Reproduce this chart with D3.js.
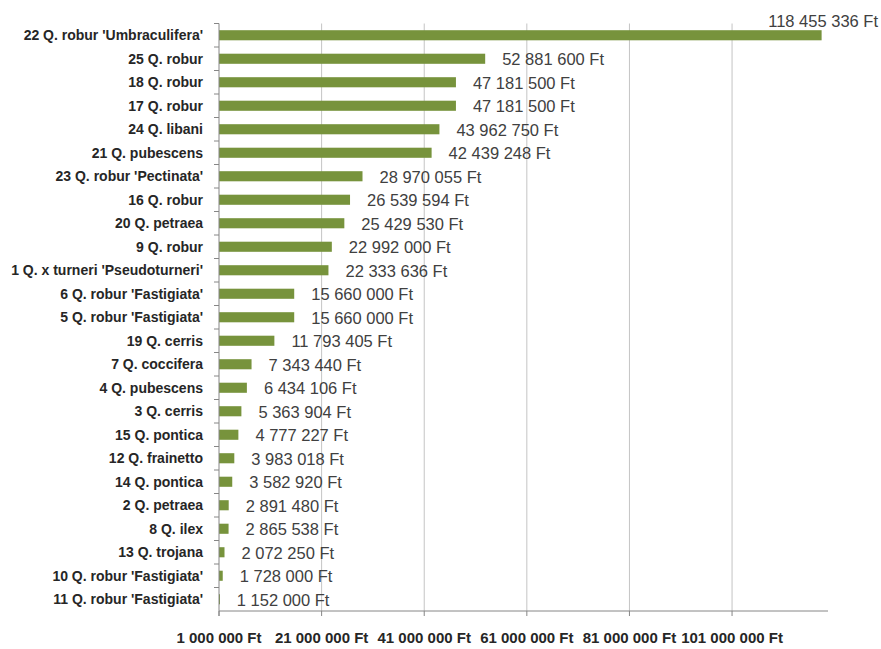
<!DOCTYPE html>
<meta charset="utf-8">
<style>
    body { margin: 0; background: #fff; }
    .cat text { font-family: "Liberation Sans Narrow", "Liberation Sans", Arial, sans-serif; font-weight: bold; font-size: 14px; fill: #262626; }
    .val { font-family: "Liberation Sans", Arial, sans-serif; font-size: 16.5px; fill: #404040; }
    .xlab { font-family: "Liberation Sans Narrow", "Liberation Sans", Arial, sans-serif; font-weight: bold; font-size: 15px; fill: #262626; }
</style>
<body>
<script src="https://cdn.jsdelivr.net/npm/d3@7"></script>
<script>
    // Trees, top to bottom, and their value in Ft
    var trees = ["22 Q. robur 'Umbraculifera'", "25 Q. robur", "18 Q. robur", "17 Q. robur",
        "24 Q. libani", "21 Q. pubescens", "23 Q. robur 'Pectinata'", "16 Q. robur",
        "20 Q. petraea", "9 Q. robur", "1 Q. x turneri 'Pseudoturneri'", "6 Q. robur 'Fastigiata'",
        "5 Q. robur 'Fastigiata'", "19 Q. cerris", "7 Q. coccifera ", "4 Q. pubescens",
        "3 Q. cerris", "15 Q. pontica", "12 Q. frainetto", "14 Q. pontica", "2 Q. petraea",
        "8 Q. ilex", "13 Q. trojana", "10 Q. robur 'Fastigiata'", "11 Q. robur 'Fastigiata'"];
    var values = [118455336, 52881600, 47181500, 47181500, 43962750, 42439248, 28970055, 26539594,
        25429530, 22992000, 22333636, 15660000, 15660000, 11793405, 7343440, 6434106,
        5363904, 4777227, 3983018, 3582920, 2891480, 2865538, 2072250, 1728000, 1152000];
    var xTicks = [1000000, 21000000, 41000000, 61000000, 81000000, 101000000];

    var W = 881, H = 649;
    // plot box (note: "top" is taken by window.top)
    var plotLeft = 219, plotRight = 828, plotTop = 23.5, plotBottom = 611;

    // number with space thousand separators, as in the source
    function ft(v) {
        return String(v).replace(/\B(?=(\d{3})+(?!\d))/g, " ") + " Ft";
    }

    var svg = d3.select("body").append("svg")
        .attr("width", W)
        .attr("height", H);

    var x = d3.scaleLinear()
        .domain([1000000, 119700000])
        .range([plotLeft, plotRight]);

    var y = d3.scaleBand()
        .domain(trees)
        .range([plotTop, plotBottom])
        .paddingInner(0.57)
        .paddingOuter(0.285);

    // vertical gridlines
    svg.append("g")
        .selectAll("line")
        .data(xTicks.slice(1))
        .enter().append("line")
        .attr("x1", function(d) { return x(d); })
        .attr("x2", function(d) { return x(d); })
        .attr("y1", plotTop)
        .attr("y2", plotBottom)
        .attr("stroke", "#c4c4c4")
        .attr("stroke-width", 1);

    // bars
    svg.append("g")
        .selectAll("rect")
        .data(values)
        .enter().append("rect")
        .attr("x", x(1000000))
        .attr("y", function(d, i) { return y(trees[i]); })
        .attr("width", function(d) { return Math.max(1, x(d) - x(1000000)); })
        .attr("height", y.bandwidth())
        .attr("fill", "#77933c");

    // left axis with ticks between categories
    var step = y.step();
    var yAxis = svg.append("g").attr("class", "cat");
    yAxis.append("line")
        .attr("x1", plotLeft).attr("x2", plotLeft)
        .attr("y1", plotTop).attr("y2", plotBottom + 5)
        .attr("stroke", "#868686");
    yAxis.selectAll("line.tk")
        .data(d3.range(trees.length))
        .enter().append("line")
        .attr("class", "tk")
        .attr("x1", plotLeft - 5).attr("x2", plotLeft)
        .attr("y1", function(i) { return plotTop + i * step; })
        .attr("y2", function(i) { return plotTop + i * step; })
        .attr("stroke", "#868686");
    yAxis.selectAll("text")
        .data(trees)
        .enter().append("text")
        .attr("x", 203)
        .attr("y", function(d) { return y(d) + y.bandwidth() / 2; })
        .attr("dy", "0.35em")
        .attr("text-anchor", "end")
        .text(function(d) { return d; });

    // bottom axis
    var xAxis = svg.append("g");
    xAxis.append("line")
        .attr("x1", plotLeft).attr("x2", plotRight)
        .attr("y1", plotBottom).attr("y2", plotBottom)
        .attr("stroke", "#868686");
    xAxis.selectAll("line.tk")
        .data(xTicks)
        .enter().append("line")
        .attr("class", "tk")
        .attr("x1", function(d) { return x(d); })
        .attr("x2", function(d) { return x(d); })
        .attr("y1", plotBottom).attr("y2", plotBottom + 5)
        .attr("stroke", "#868686");
    xAxis.selectAll("text")
        .data(xTicks)
        .enter().append("text")
        .attr("class", "xlab")
        .attr("x", function(d) { return x(d); })
        .attr("y", 643)
        .attr("text-anchor", "middle")
        .text(ft);

    // value labels
    svg.append("g")
        .selectAll("text")
        .data(values)
        .enter().append("text")
        .attr("class", "val")
        .attr("x", function(d) { return x(d) + 17; })
        .attr("y", function(d, i) { return y(trees[i]) + y.bandwidth() / 2; })
        .attr("dy", "0.4em")
        .text(ft)
        .each(function(d) {
            var t = d3.select(this);
            var w = this.getComputedTextLength();
            if (x(d) + 17 + w > W - 3) {
                // no room on the right: pull it back and lift it above the bar
                t.attr("x", W - 3).attr("text-anchor", "end")
                    .attr("y", +t.attr("y") - 15);
            }
        });
</script>
</body>
